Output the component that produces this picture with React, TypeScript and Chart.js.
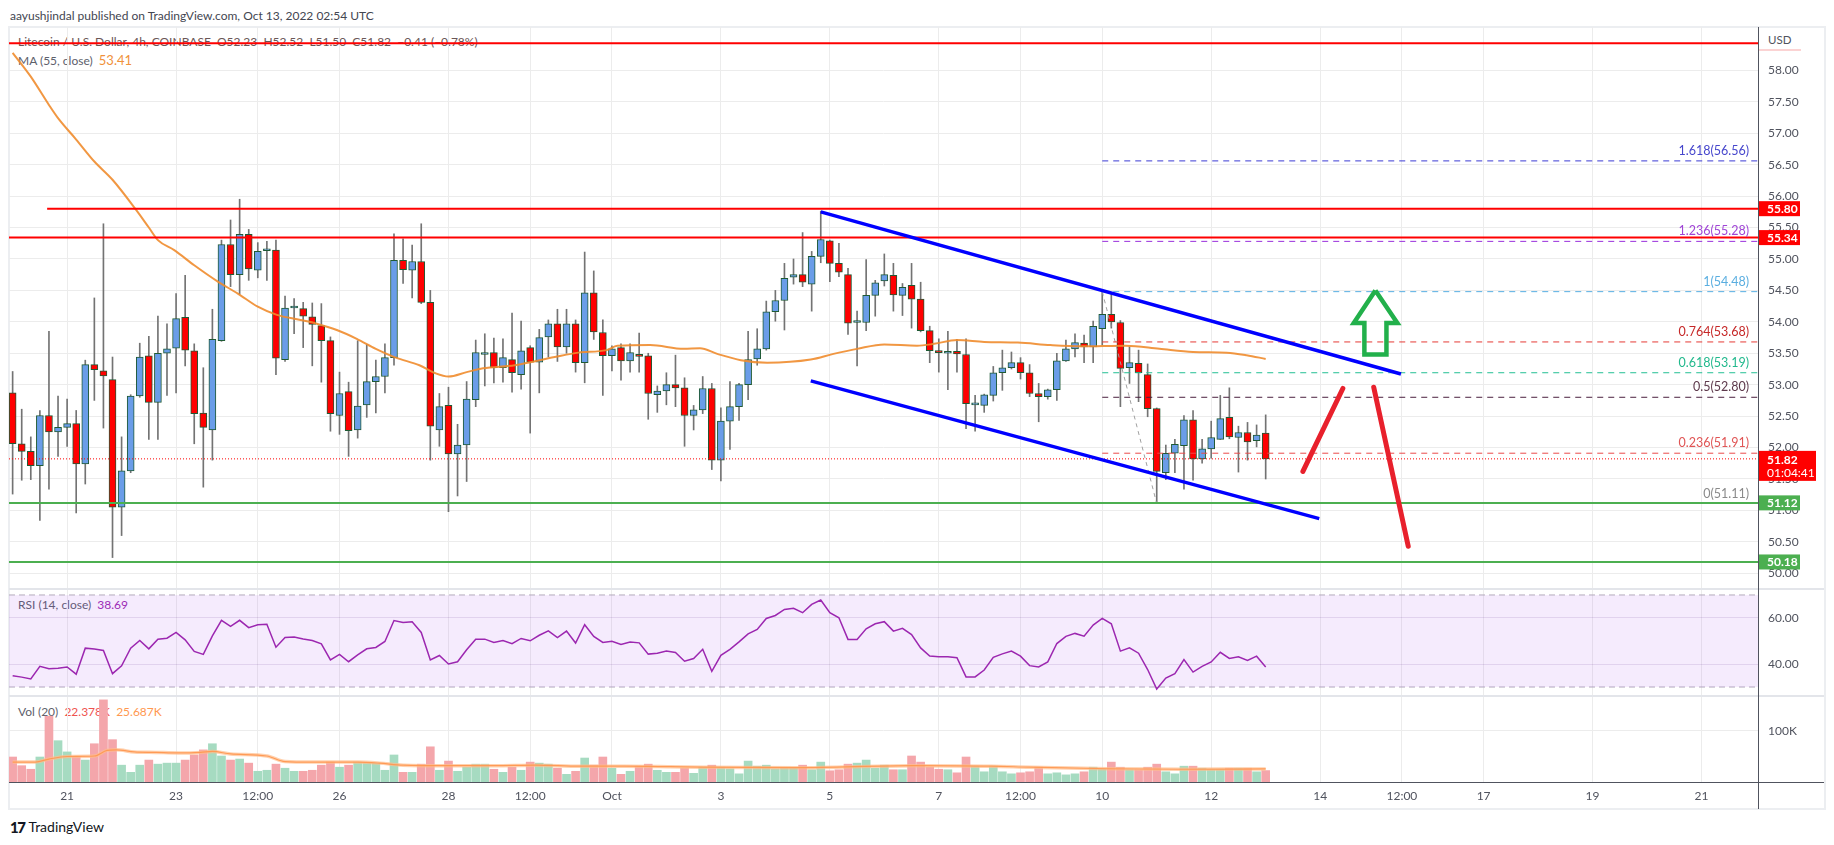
import { useEffect, useRef } from "react"
import { Chart, registerables } from "chart.js"

Chart.register(...registerables)
Chart.defaults.font.family = "Lato"

// 4h candles, Sep 20 00:00 -> Oct 13 00:00 (index 0..138)
const opens = [
  52.87, 52.06, 51.94, 51.71, 52.51, 52.25, 52.32, 52.38, 51.74, 53.32, 53.22, 53.08, 51.05, 51.63, 52.82, 53.46, 52.72, 53.5, 53.58, 54.07,
  53.54, 52.55, 52.28, 53.7, 55.23, 54.75, 55.39, 54.82, 55.13, 55.14, 53.4, 54.22, 54.21, 54.08, 53.94, 53.7, 52.51, 52.89, 52.28, 52.68,
  53.05, 53.13, 53.43, 54.98, 54.82, 54.96, 54.31, 52.28, 52.67, 51.9, 52.04, 52.76, 53.48, 53.51, 53.27, 53.4, 53.16, 53.59, 53.36, 53.76,
  53.97, 53.6, 53.97, 53.35, 54.46, 53.83, 53.46, 53.59, 53.38, 53.48, 53.46, 52.84, 52.9, 53.0, 52.95, 52.51, 52.6, 52.94, 51.8, 52.42,
  52.65, 53.0, 53.41, 53.57, 54.16, 54.34, 54.71, 54.75, 54.6, 55.04, 55.29, 54.93, 54.75, 53.99, 53.99, 54.42, 54.65, 54.74, 54.42, 54.58,
  54.36, 53.86, 53.54, 53.5, 53.53, 53.48, 52.68, 52.67, 52.83, 53.19, 53.27, 53.35, 53.19, 52.86, 52.81, 52.92, 53.38, 53.57, 53.66, 53.6,
  53.89, 54.12, 53.99, 53.27, 53.34, 53.16, 52.62, 51.6, 51.91, 52.03, 52.44, 51.82, 51.98, 52.13, 52.48, 52.16, 52.24, 52.11, 52.23,
]
const highs = [
  53.21, 52.61, 52.17, 52.59, 53.85, 52.82, 52.77, 52.59, 53.39, 54.38, 55.56, 53.44, 52.17, 52.84, 53.66, 53.77, 54.09, 53.97, 54.45, 54.74,
  53.65, 53.27, 54.2, 55.3, 55.62, 55.95, 55.47, 55.26, 55.28, 55.3, 54.41, 54.37, 54.31, 54.3, 54.29, 53.76, 53.2, 53.04, 53.7, 53.64,
  53.39, 53.65, 55.4, 55.32, 55.22, 55.56, 54.5, 52.86, 52.96, 52.37, 53.05, 53.71, 53.81, 53.74, 53.73, 54.14, 54.01, 53.62, 53.88, 54.03,
  54.2, 54.2, 54.03, 55.11, 54.81, 54.03, 53.62, 53.65, 53.65, 53.82, 53.5, 52.98, 53.19, 53.47, 53.11, 52.67, 53.13, 53.02, 52.63, 53.05,
  53.02, 53.85, 53.89, 54.33, 54.5, 54.93, 55.0, 55.42, 55.12, 55.76, 55.3, 55.25, 54.85, 54.17, 54.99, 54.66, 55.08, 54.93, 54.61, 54.93,
  54.63, 53.93, 53.73, 53.85, 53.72, 53.73, 52.83, 52.85, 53.29, 53.55, 53.52, 53.43, 53.32, 53.02, 52.93, 53.5, 53.71, 53.81, 53.79, 54.01,
  54.48, 54.45, 54.02, 53.6, 53.55, 53.33, 52.63, 52.04, 52.13, 52.51, 52.59, 52.13, 52.42, 52.83, 52.95, 52.34, 52.4, 52.36, 52.52,
]
const lows = [
  51.26, 51.48, 51.49, 50.84, 51.34, 51.86, 52.02, 50.96, 51.42, 52.75, 52.31, 50.25, 50.6, 51.6, 52.8, 52.13, 52.13, 52.83, 52.87, 53.3,
  52.06, 51.37, 51.8, 53.69, 54.56, 54.44, 54.66, 54.7, 54.66, 53.16, 53.37, 53.81, 53.59, 53.3, 53.04, 52.26, 52.21, 51.86, 52.15, 52.48,
  52.55, 52.87, 53.31, 54.61, 54.38, 54.29, 51.8, 52.02, 50.98, 51.23, 51.46, 52.65, 52.98, 53.03, 53.04, 52.88, 52.93, 52.23, 52.87, 53.44,
  53.37, 53.5, 53.2, 53.03, 53.72, 52.83, 53.22, 53.07, 53.2, 53.2, 52.45, 52.56, 52.68, 52.65, 52.02, 52.28, 52.54, 51.65, 51.47, 51.97,
  52.43, 52.76, 53.31, 53.55, 54.01, 53.87, 54.6, 54.56, 54.17, 54.94, 54.64, 54.72, 53.8, 53.3, 53.86, 54.09, 54.57, 54.17, 54.1, 53.9,
  53.84, 53.35, 53.2, 52.92, 53.2, 52.3, 52.26, 52.56, 52.74, 52.91, 53.25, 53.09, 52.81, 52.41, 52.77, 52.75, 53.37, 53.44, 53.35, 53.35,
  53.63, 53.9, 52.65, 53.02, 52.73, 52.49, 51.11, 51.49, 51.6, 51.34, 51.48, 51.75, 51.83, 52.13, 52.14, 51.61, 51.8, 52.01, 51.5,
]
const closes = [
  52.06, 51.94, 51.71, 52.51, 52.25, 52.32, 52.38, 51.74, 53.32, 53.24, 53.14, 51.05, 51.63, 52.82, 53.44, 52.72, 53.5, 53.57, 54.05, 53.55,
  52.54, 52.32, 53.72, 55.23, 54.75, 55.39, 54.84, 55.12, 55.14, 53.42, 54.22, 54.23, 54.09, 53.96, 53.7, 52.54, 52.86, 52.27, 52.66, 53.05,
  53.13, 53.43, 54.98, 54.83, 54.96, 54.31, 52.34, 52.65, 51.9, 52.04, 52.77, 53.51, 53.51, 53.27, 53.43, 53.19, 53.54, 53.36, 53.75, 53.97,
  53.6, 53.97, 53.35, 54.46, 53.84, 53.46, 53.57, 53.38, 53.51, 53.45, 52.86, 52.9, 53.0, 52.95, 52.51, 52.6, 52.94, 51.8, 52.42, 52.65,
  53.0, 53.4, 53.57, 54.16, 54.34, 54.69, 54.75, 54.63, 55.04, 55.31, 54.93, 54.79, 53.98, 54.0, 54.42, 54.62, 54.75, 54.43, 54.55, 54.36,
  53.86, 53.54, 53.51, 53.51, 53.49, 52.7, 52.69, 52.84, 53.19, 53.27, 53.35, 53.19, 52.86, 52.81, 52.92, 53.38, 53.57, 53.67, 53.6, 53.93,
  54.12, 54.0, 53.26, 53.35, 53.19, 52.62, 51.62, 51.91, 52.05, 52.44, 51.82, 51.98, 52.16, 52.46, 52.17, 52.24, 52.09, 52.2, 51.82,
]
// volume in thousands
const volumes = [
  49, 32, 25, 49, 129, 81, 59, 49, 43, 75, 161, 83, 33, 19, 33, 43, 35, 37, 37, 43,
  53, 63, 75, 51, 43, 45, 37, 21, 23, 35, 27, 21, 21, 23, 33, 39, 29, 33, 39, 37,
  37, 23, 53, 19, 19, 35, 69, 23, 41, 21, 29, 35, 35, 25, 19, 29, 23, 39, 37, 35,
  27, 15, 21, 47, 33, 49, 27, 15, 21, 31, 35, 23, 19, 19, 27, 17, 29, 33, 29, 26,
  16, 41, 31, 33, 26, 27, 27, 33, 24, 39, 22, 24, 35, 37, 43, 27, 33, 24, 24, 51,
  39, 29, 25, 24, 18, 49, 31, 20, 31, 20, 16, 18, 20, 29, 16, 18, 14, 16, 20, 29,
  25, 39, 29, 24, 24, 29, 35, 20, 16, 31, 31, 27, 25, 25, 27, 27, 27, 20, 22.4,
]
const rsiValues = [
  34.9, 34.3, 33.5, 39.0, 37.9, 38.2, 38.7, 35.6, 46.9, 46.5, 45.9, 35.8, 39.2, 46.9, 50.2, 46.6, 50.8, 51.2, 53.7, 50.5,
  45.5, 44.2, 52.2, 59.0, 56.4, 59.0, 55.8, 57.1, 57.3, 47.3, 51.5, 51.7, 50.9, 50.2, 48.8, 41.8, 44.2, 41.0, 44.0, 46.6,
  47.2, 49.8, 58.9, 58.0, 58.4, 53.7, 41.8, 43.7, 40.0, 41.0, 46.2, 50.8, 50.8, 49.4, 50.2, 48.8, 51.1, 50.1, 52.5, 54.4,
  51.5, 54.3, 49.1, 57.1, 52.0, 49.4, 49.9, 48.5, 49.6, 49.2, 44.3, 44.7, 45.6, 45.0, 41.2, 42.4, 46.4, 36.8, 43.8, 46.4,
  49.6, 53.1, 55.0, 59.8, 61.1, 63.7, 64.2, 62.3, 65.9, 67.8, 62.3, 60.1, 50.7, 50.7, 55.3, 57.5, 58.4, 54.3, 55.5, 52.8,
  47.0, 43.5, 43.2, 43.2, 42.7, 34.4, 34.4, 37.4, 42.9, 44.4, 45.6, 43.4, 39.3, 38.7, 40.9, 48.9, 52.0, 53.3, 52.1, 56.9,
  59.8, 57.5, 45.6, 47.0, 44.7, 37.6, 29.1, 33.9, 35.8, 41.9, 36.5, 39.0, 40.9, 45.1, 42.4, 43.1, 41.6, 43.4, 38.69,
]
// MA(55) at these candle positions
const maIndex = [
  0, 2, 4, 5, 7, 9, 11, 13.6, 15, 16, 17.8, 20, 22.6, 24.8, 27, 29.1, 31.7, 33.5, 35.7, 37.9, 40, 42.2, 44.8, 46.6, 48, 50,
  51.8, 55.3, 59.7, 62.3, 65.4, 66.6, 70.2, 73.9, 75.7, 77.6, 80.2, 83.1, 87.9, 90.4, 93, 96, 99.6, 101.5, 104, 107, 110.7,
  114.3, 117.7, 122.6, 126.3, 130, 133.7, 135.9, 138,
]
const maValues = [
  58.28, 57.9, 57.45, 57.24, 56.9, 56.55, 56.26, 55.78, 55.5, 55.3, 55.14, 54.9, 54.64, 54.45, 54.24, 54.11, 54.03, 53.97, 53.87,
  53.73, 53.57, 53.43, 53.31, 53.18, 53.13, 53.2, 53.26, 53.31, 53.44, 53.51, 53.55, 53.62, 53.63, 53.57, 53.58, 53.49, 53.39,
  53.35, 53.4, 53.49, 53.57, 53.64, 53.62, 53.65, 53.71, 53.68, 53.67, 53.63, 53.61, 53.62, 53.57, 53.52, 53.51, 53.47, 53.41,
]
const volMaIndex = [0, 2.5, 4, 6, 9, 10.4, 11.4, 13.4, 15.8, 18.3, 20.7, 22, 24, 28, 30, 33, 38, 40.4, 43, 48, 53, 57.6, 62.5, 67.4, 72.4, 76, 86.3, 99.2, 107.8, 112, 120.6, 129.2, 138]
const volMaValues = [39, 39, 45, 50, 51, 62, 63, 59, 58, 57, 58, 60, 55, 51, 40, 39, 39, 37, 33, 32, 32, 33, 31, 31, 30, 29, 28, 32, 31, 29, 26, 25, 25.7]

const tickIndex = [6, 18, 27, 36, 48, 57, 66, 78, 90, 102, 111, 120, 132, 144, 153, 162, 174, 186]
const tickLabels = ["21", "23", "12:00", "26", "28", "12:00", "Oct", "3", "5", "7", "12:00", "10", "12", "14", "12:00", "17", "19", "21"]
const priceTicks = [50, 50.5, 51, 51.5, 52, 52.5, 53, 53.5, 54, 54.5, 55, 55.5, 56, 56.5, 57, 57.5, 58]

// horizontal support / resistance
const levelPrices = [58.43, 55.8, 55.34, 51.12, 50.18]
const levelStart = [-0.4, 3.8, -0.4, -0.4, -0.4]
const levelColors = ["#ff0000", "#ff0000", "#ff0000", "#4caf50", "#4caf50"]

// fibonacci extension
const fibRatios = ["1.618", "1.236", "1", "0.764", "0.618", "0.5", "0.236", "0"]
const fibPrices = [56.56, 55.28, 54.48, 53.68, 53.19, 52.8, 51.91, 51.11]
const fibColors = ["#3b3bd4", "#9a2fdc", "#58aee2", "#e53935", "#22bf93", "#4a1f3e", "#ea4a4a", "#9a9a9a"]
const fibLabelColors = ["#4646cc", "#a045d6", "#5aaee0", "#c62828", "#22b98d", "#5e3a4c", "#e05555", "#8a8a8a"]
const fibTrendX = [120, 126]
const fibTrendY = [54.48, 51.11]

// channel + arrows
const upperChannelX = [89, 152.9]
const upperChannelY = [55.75, 53.17]
const lowerChannelX = [87.9, 143.9]
const lowerChannelY = [53.06, 50.87]
const upArrowX = [150.08, 152.5, 151.3, 151.3, 148.87, 148.87, 147.7, 150.08]
const upArrowY = [54.5, 53.98, 53.98, 53.48, 53.48, 53.98, 53.98, 54.5]
const redLeg1X = [142.1, 146.5]
const redLeg1Y = [51.62, 52.94]
const redLeg2X = [149.9, 153.7]
const redLeg2Y = [52.96, 50.43]

const lastPrice = 51.82
const boxPrices = [55.8, 55.34, 51.12, 50.18]
const boxColors = ["#ff0000", "#ff0000", "#4caf50", "#4caf50"]

const X_MIN = -0.4
const X_MAX = 192.22
const AXIS_W = 66
const GRID = "#ececec"
const TEXT = "#50535e"

const pts = (xs: number[], ys: number[]) => xs.map((x, i) => ({ x, y: ys[i] }))

const seg = (xs: number[], ys: number[], color: string, width: number, extra: any = {}) => ({
  type: "line" as const,
  data: pts(xs, ys),
  borderColor: color,
  borderWidth: width,
  pointRadius: 0,
  order: 0,
  ...extra,
})

// keep chart.js from reserving room for tick labels at the pane edges
const noPad = (axis: any) => {
  axis.paddingTop = 0
  axis.paddingBottom = 0
  axis.paddingLeft = 0
  axis.paddingRight = 0
}

const xScale = (labels: boolean): any => ({
  type: "linear",
  min: X_MIN,
  max: X_MAX,
  offset: false,
  afterBuildTicks: (axis: any) => {
    axis.ticks = tickIndex.map((v) => ({ value: v }))
  },
  afterFit: (axis: any) => {
    axis.height = labels ? 26 : 0
    noPad(axis)
  },
  grid: { color: GRID, drawTicks: false, offset: false },
  border: { display: false },
  ticks: {
    display: labels,
    autoSkip: false,
    maxRotation: 0,
    padding: 7,
    color: TEXT,
    font: { size: 12 },
    callback: (_v: any, i: number) => tickLabels[i],
  },
})

const yScale = (min: number, max: number, ticks: number[], fmt: (v: number) => string, grid = GRID): any => ({
  type: "linear",
  position: "right",
  min,
  max,
  afterBuildTicks: (axis: any) => {
    axis.ticks = ticks.map((v) => ({ value: v }))
  },
  afterFit: (axis: any) => {
    axis.width = AXIS_W
    noPad(axis)
  },
  grid: { color: grid, drawTicks: false },
  border: { display: false },
  ticks: { padding: 10, color: TEXT, font: { size: 12 }, callback: (v: any) => fmt(Number(v)) },
})

const baseOptions = (scales: any, plugins: any[] = []) => ({
  type: "bar" as const,
  options: {
    responsive: false,
    maintainAspectRatio: false,
    animation: false as const,
    layout: { padding: 0 },
    plugins: { legend: { display: false }, tooltip: { enabled: false } },
    scales,
  },
  plugins,
})

const priceOverlay = {
  id: "priceOverlay",
  afterDraw(chart: any) {
    const { ctx, chartArea, scales } = chart
    const y = scales.y
    ctx.save()
    ctx.font = "12.5px Lato"
    ctx.textAlign = "right"
    ctx.textBaseline = "middle"
    fibPrices.forEach((p, k) => {
      ctx.fillStyle = fibLabelColors[k]
      ctx.fillText(`${fibRatios[k]}(${p.toFixed(2)})`, chartArea.right - 9, y.getPixelForValue(p) - 10)
    })
    ctx.textAlign = "left"
    ctx.font = "bold 12px Lato"
    boxPrices.forEach((p, k) => {
      const py = y.getPixelForValue(p)
      ctx.fillStyle = boxColors[k]
      ctx.fillRect(chartArea.right, py - 7.5, 42, 15)
      ctx.fillStyle = "#ffffff"
      ctx.fillText(p.toFixed(2), chartArea.right + 9, py + 0.5)
    })
    const ly = y.getPixelForValue(lastPrice)
    ctx.fillStyle = "#ff0000"
    ctx.fillRect(chartArea.right, ly - 8, 58, 30)
    ctx.fillStyle = "#ffffff"
    ctx.fillText(lastPrice.toFixed(2), chartArea.right + 9, ly + 1.5)
    ctx.font = "12px Lato"
    ctx.fillText("01:04:41", chartArea.right + 9, ly + 14.5)
    ctx.restore()
  },
}

export default function App() {
  const priceRef = useRef<HTMLCanvasElement>(null)
  const rsiRef = useRef<HTMLCanvasElement>(null)
  const volRef = useRef<HTMLCanvasElement>(null)

  useEffect(() => {
    if (!priceRef.current || !rsiRef.current || !volRef.current) return
    const up = closes.map((c, i) => c >= opens[i])

    const levelSets = levelPrices.map((p, k) =>
      seg([levelStart[k], X_MAX], [p, p], levelColors[k], 2, { order: 1 })
    )
    const fibSets = fibPrices.map((p, k) =>
      seg([120, X_MAX], [p, p], fibColors[k], 1, { borderDash: [6, 5], order: 1 })
    )

    const price = new Chart(priceRef.current, {
      ...baseOptions(
        { x: xScale(false), y: yScale(49.75, 58.69, priceTicks, (v) => v.toFixed(2)) },
        [priceOverlay]
      ),
      data: {
        datasets: [
          ...levelSets,
          ...fibSets,
          seg([X_MIN, X_MAX], [lastPrice, lastPrice], "#ff0000", 1, { borderDash: [1, 2], order: 1 }),
          seg(fibTrendX, fibTrendY, "#a0a0a0", 1, { borderDash: [4, 4], order: 1 }),
          seg(upperChannelX, upperChannelY, "#0000ff", 3.5),
          seg(lowerChannelX, lowerChannelY, "#0000ff", 3.5),
          seg(redLeg1X, redLeg1Y, "#e8202c", 5, { borderCapStyle: "round" }),
          seg(redLeg2X, redLeg2Y, "#e8202c", 5, { borderCapStyle: "round" }),
          seg(upArrowX, upArrowY, "#22b04b", 4.5, { borderJoinStyle: "miter" }),
          {
            type: "line",
            data: pts(maIndex, maValues),
            borderColor: "rgba(240, 140, 45, 0.9)",
            borderWidth: 2,
            pointRadius: 0,
            cubicInterpolationMode: "monotone",
            order: 2,
          },
          {
            type: "bar",
            data: opens.map((o, i) => ({ x: i, y: [o, closes[i]] })),
            backgroundColor: up.map((u) => (u ? "#6a9de8" : "#ff0000")),
            borderColor: "#1f5a34",
            borderWidth: 1,
            borderSkipped: false,
            barThickness: 7,
            minBarLength: 2,
            grouped: false,
            order: 3,
          },
          {
            type: "bar",
            data: lows.map((l, i) => ({ x: i, y: [l, highs[i]] })),
            backgroundColor: "#737373",
            barThickness: 1,
            grouped: false,
            order: 4,
          },
        ] as any,
      },
    } as any)

    const rsi = new Chart(rsiRef.current, {
      ...baseOptions({
        x: xScale(false),
        y: yScale(26.1, 72.6, [40, 60], (v) => v.toFixed(2), "rgba(110, 80, 150, 0.16)"),
      }),
      data: {
        datasets: [
          {
            type: "line",
            data: rsiValues.map((v, i) => ({ x: i, y: v })),
            borderColor: "#9c27b0",
            borderWidth: 1.5,
            pointRadius: 0,
            order: 0,
          },
          seg([X_MIN, X_MAX], [70, 70], "#b3abbb", 1, {
            borderDash: [6, 4],
            fill: { value: 30 },
            backgroundColor: "rgba(160, 70, 235, 0.11)",
            order: 1,
          }),
          seg([X_MIN, X_MAX], [30, 30], "#b3abbb", 1, { borderDash: [6, 4], order: 1 }),
        ] as any,
      },
    } as any)

    const vol = new Chart(volRef.current, {
      ...baseOptions({
        x: xScale(true),
        y: yScale(0, 168.6, [100], (v) => `${v}K`),
      }),
      data: {
        datasets: [
          {
            type: "line",
            data: pts(volMaIndex, volMaValues),
            borderColor: "rgba(255, 190, 140, 0.7)",
            borderWidth: 3.5,
            pointRadius: 0,
            cubicInterpolationMode: "monotone",
            order: 1,
          },
          {
            type: "line",
            data: pts(volMaIndex, volMaValues),
            borderColor: "#ff9a55",
            borderWidth: 1.2,
            pointRadius: 0,
            cubicInterpolationMode: "monotone",
            order: 0,
          },
          {
            type: "bar",
            data: volumes.map((v, i) => ({ x: i, y: v })),
            backgroundColor: up.map((u) => (u ? "#a6dbc1" : "#f4a6ab")),
            barThickness: 8,
            grouped: false,
            order: 2,
          },
        ] as any,
      },
    } as any)

    return () => {
      price.destroy()
      rsi.destroy()
      vol.destroy()
    }
  }, [])

  const abs = (l: number, t: number, extra: any = {}): any => ({ position: "absolute", left: l, top: t, ...extra })
  const legend = { fontSize: 12, lineHeight: "14px", whiteSpace: "pre" as const, color: "#6a5656" }

  return (
    <div style={{ position: "absolute", left: 0, top: 0, width: 1834, height: 845, background: "#fff", overflow: "hidden", fontFamily: "Lato" }}>
      <div style={abs(10, 8, { fontSize: 12, lineHeight: "15px", color: "#434651", whiteSpace: "pre" })}>
        aayushjindal published on TradingView.com, Oct 13, 2022 02:54 UTC
      </div>
      <div style={abs(8, 26, { width: 1818, height: 784, border: "2px solid #eceef1", boxSizing: "border-box" })} />

      <div style={abs(18, 35, legend)}>
        Litecoin / U.S. Dollar, 4h, COINBASE  O52.23  H52.52  L51.50  C51.82  −0.41 (−0.78%)
      </div>
      <div style={abs(18, 53, { ...legend, color: "#5d606b" })}>
        MA (55, close)  <span style={{ color: "#f0913a", fontSize: 13 }}>53.41</span>
      </div>
      <div style={abs(18, 598, { ...legend, color: "#5d606b" })}>
        RSI (14, close)  <span style={{ color: "#9c27b0" }}>38.69</span>
      </div>
      <div style={abs(18, 705, { ...legend, color: "#5d606b" })}>
        Vol (20)  <span style={{ color: "#ef5350" }}>22.378K</span>  <span style={{ color: "#ff9850" }}>25.687K</span>
      </div>

      <canvas ref={priceRef} width={1815} height={562} style={abs(9, 27)} />
      <canvas ref={rsiRef} width={1815} height={107} style={abs(9, 589)} />
      <canvas ref={volRef} width={1815} height={112} style={abs(9, 696)} />

      <div style={abs(9, 588, { width: 1815, height: 2, background: "#e3e5ea" })} />
      <div style={abs(9, 695, { width: 1815, height: 2, background: "#e3e5ea" })} />
      <div style={abs(1758, 27, { width: 1, height: 782, background: "#50535e" })} />
      <div style={abs(9, 782, { width: 1815, height: 1, background: "#50535e" })} />

      <div style={abs(1759, 28, { width: 42, height: 21, background: "#fff", borderBottom: "2px solid #fbd3d3" })}>
        <span style={{ position: "absolute", left: 9, top: 5, fontSize: 11.5, color: TEXT }}>USD</span>
      </div>

      <div style={abs(10, 818, { display: "flex", alignItems: "center", gap: 4, whiteSpace: "pre" })}>
        <span style={{ fontSize: 15, fontWeight: 900, color: "#131722", letterSpacing: -1.5, lineHeight: "18px" }}>17</span>
        <span style={{ fontSize: 14, color: "#131722", lineHeight: "18px" }}>TradingView</span>
      </div>
    </div>
  )
}
